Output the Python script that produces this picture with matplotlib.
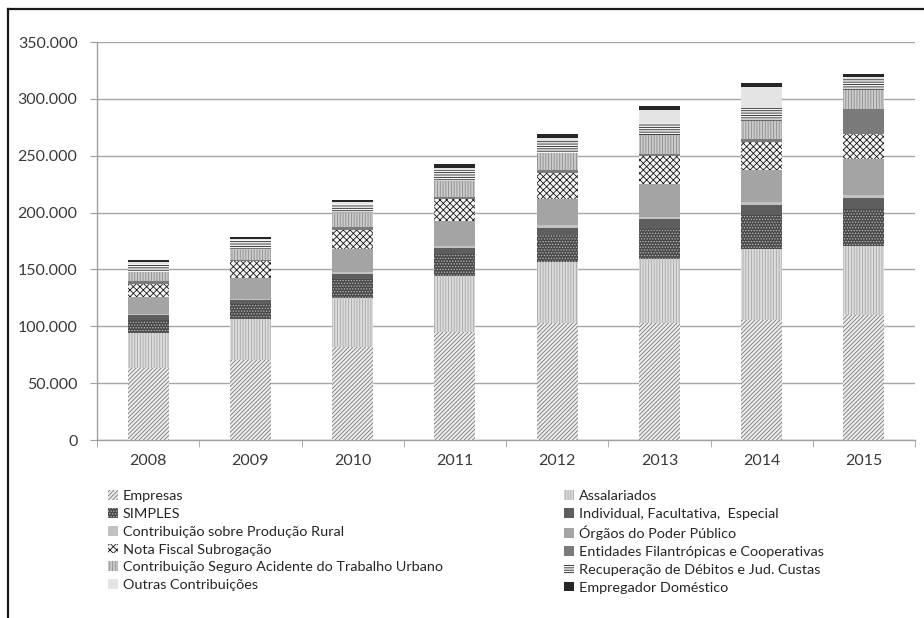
import numpy as np
import matplotlib
matplotlib.use("Agg")
import matplotlib.pyplot as plt
from matplotlib.ticker import FuncFormatter, FixedLocator
from matplotlib.lines import Line2D
from matplotlib.patches import Patch

plt.rcParams['font.family'] = ['Lato', 'DejaVu Sans']
plt.rcParams['hatch.linewidth'] = 0.6

years = ['2008', '2009', '2010', '2011', '2012', '2013', '2014', '2015']

# values in thousands
empresas      = [63.3, 70.3, 82.0, 95.2, 103.0, 102.5, 105.5, 110.0]
assalariados  = [31.0, 36.0, 43.0, 49.0, 53.7, 56.5, 62.4, 61.0]
simples       = [11.2, 13.8, 17.0, 19.3, 23.5, 27.0, 30.0, 32.0]
individual    = [4.0, 3.0, 4.0, 5.5, 6.5, 8.0, 8.5, 9.5]
prod_rural    = [1.2, 1.2, 1.5, 1.5, 2.0, 2.3, 2.6, 2.9]
orgaos        = [15.0, 18.0, 20.5, 22.0, 23.0, 28.5, 28.5, 31.5]
nota_fiscal   = [11.7, 14.7, 17.0, 19.0, 23.4, 25.0, 25.0, 22.6]
entidades     = [2.3, 1.7, 2.0, 2.6, 2.4, 2.0, 2.0, 22.0]
seguro        = [8.0, 8.0, 12.7, 14.0, 14.7, 16.0, 16.4, 16.6]
recuperacao   = [7.3, 9.0, 8.0, 9.7, 11.0, 11.0, 11.4, 9.7]
outras        = [1.4, 1.2, 1.5, 1.5, 2.5, 11.0, 18.5, 1.5]
empregador    = [2.0, 2.0, 2.0, 3.0, 3.0, 3.5, 3.3, 2.5]

series = [
    ('Empresas', empresas, '#ececec', '////////', '#7a7a7a'),
    ('Assalariados', assalariados, '#dcdcdc', '||||||', '#a8a8a8'),
    ('SIMPLES', simples, '#4a4a4a', '......', '#b8b8b8'),
    ('Individual, Facultativa,  Especial', individual, '#5e5e5e', None, None),
    ('Contribuição sobre Produção Rural', prod_rural, '#c2c2c2', None, None),
    ('Órgãos do Poder Público', orgaos, '#a4a4a4', None, None),
    ('Nota Fiscal Subrogação', nota_fiscal, '#f4f4f4', 'xxxxx', '#1a1a1a'),
    ('Entidades Filantrópicas e Cooperativas', entidades, '#7a7a7a', None, None),
    ('Contribuição Seguro Acidente do Trabalho Urbano', seguro, '#cbcbcb', '||||||', '#8c8c8c'),
    ('Recuperação de Débitos e Jud. Custas', recuperacao, '#f4f4f4', '-------', '#222222'),
    ('Outras Contribuições', outras, '#e4e4e4', None, None),
    ('Empregador Doméstico', empregador, '#262626', None, None),
]

fig = plt.figure(figsize=(9.24, 6.18), dpi=100)
ax = fig.add_axes([97 / 924, 1 - 440 / 618, 818 / 924, 398 / 618])

x = np.arange(len(years))
bottom = np.zeros(len(years))
handles = []
for name, vals, face, hatch, hcol in series:
    v = np.array(vals) * 1000
    ax.bar(x, v, width=0.4, bottom=bottom, color=face, hatch=hatch,
           edgecolor=hcol if hcol else face, linewidth=0, zorder=3)
    bottom += v
    handles.append(Patch(facecolor=face, hatch=hatch,
                         edgecolor=hcol if hcol else face, linewidth=0, label=name))

ax.set_xlim(-0.5, len(years) - 0.5)
ax.set_ylim(0, 350000)
ax.set_yticks(np.arange(0, 350001, 50000))
ax.yaxis.set_major_formatter(FuncFormatter(lambda v, p: f"{int(v):,}".replace(",", ".")))
ax.set_xticks(x)
ax.set_xticklabels(years)
ax.xaxis.set_minor_locator(FixedLocator(np.arange(-0.5, len(years), 1.0)))
ax.tick_params(axis='x', which='major', length=0, pad=10, labelsize=11.5, labelcolor='#3a3a3a')
ax.tick_params(axis='x', which='minor', length=5, color='#a0a0a0')
ax.tick_params(axis='y', length=5, color='#a0a0a0', pad=9, labelsize=11.5, labelcolor='#3a3a3a')
ax.grid(axis='y', color='#a6a6a6', linewidth=1, zorder=0)
for s in ['top', 'right']:
    ax.spines[s].set_visible(False)
for s in ['left', 'bottom']:
    ax.spines[s].set_color('#a0a0a0')
    ax.spines[s].set_linewidth(1)

# legend in two columns, filled row by row
leg_kw = dict(frameon=False, fontsize=10.4, handlelength=0.65, handleheight=0.65,
              handletextpad=0.35, labelspacing=0.4, borderpad=0, labelcolor='#262626')
fig.legend(handles=handles[0::2], loc='upper left',
           bbox_to_anchor=(101 / 924, 1 - 483 / 618), **leg_kw)
fig.legend(handles=handles[1::2], loc='upper left',
           bbox_to_anchor=(557 / 924, 1 - 483 / 618), **leg_kw)

# outer frame (cropped on the right and bottom)
fig.add_artist(Line2D([8 / 924, 8 / 924], [0, 1 - 9 / 618], color='#1a1a1a', linewidth=1.6))
fig.add_artist(Line2D([8 / 924, 1], [1 - 9 / 618, 1 - 9 / 618], color='#1a1a1a', linewidth=1.6))

fig.savefig('out.png', dpi=100)
